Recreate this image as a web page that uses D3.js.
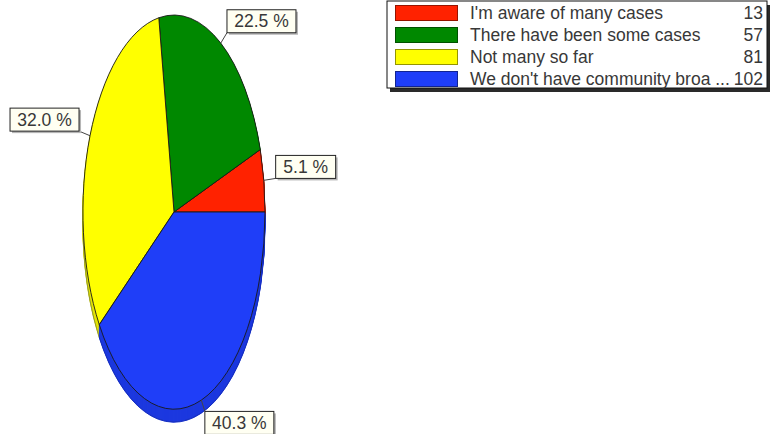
<!DOCTYPE html>
<html>
<head>
<meta charset="utf-8">
<script src="https://cdn.jsdelivr.net/npm/d3@7"></script>
<style>
  html, body { margin: 0; padding: 0; background: #fff; }
  svg { display: block; }
  text { font-family: Arial, "Liberation Sans", sans-serif; }
</style>
</head>
<body>
<svg id="chart" width="771" height="434"></svg>
<script>
// Survey answers and counts
const categories = [
  "I'm aware of many cases",
  "There have been some cases",
  "Not many so far",
  "We don't have community broa ..."
];
const counts = [13, 57, 81, 102];
const colors = ["#ff2200", "#008800", "#ffff00", "#1f3ef8"];

const svg = d3.select("#chart");

// Elliptical 3D pie: top face centre, radii and extrusion depth
const cx = 174, cy = 212, rx = 91, ry = 197, depth = 13;
const fontSize = 17.5;

const total = d3.sum(counts);
const pct = d3.format(".1f");

// Slices run counter-clockwise from 3 o'clock
const pie = d3.pie().sort(null).startAngle(Math.PI / 2).endAngle(Math.PI / 2 - 2 * Math.PI);
const arcs = pie(counts);
const arcGen = d3.arc().innerRadius(0).outerRadius(1);

const pieG = svg.append("g");

// Side of the pie: stacked layers of the slices, darker colour
for (let d = depth; d >= 1; d--) {
  const layer = pieG.append("g")
    .attr("transform", `translate(${cx},${cy + d}) scale(${rx},${ry})`);
  layer.selectAll("path")
    .data(arcs)
    .join("path")
    .attr("d", arcGen)
    .attr("fill", (a, i) => d3.color(colors[i]).darker(0.3))
    .attr("stroke", (a, i) => d3.color(colors[i]).darker(0.3))
    .attr("stroke-width", 1)
    .attr("vector-effect", "non-scaling-stroke");
}
// Outline of bottom rim
pieG.append("ellipse")
  .attr("cx", cx).attr("cy", cy + depth).attr("rx", rx).attr("ry", ry)
  .attr("fill", "none").attr("stroke", "#10208a").attr("stroke-width", 0.8).attr("opacity", 0.5);

// Top face
const faceG = pieG.append("g")
  .attr("transform", `translate(${cx},${cy}) scale(${rx},${ry})`);
faceG.selectAll("path")
  .data(arcs)
  .join("path")
  .attr("d", arcGen)
  .attr("fill", (a, i) => colors[i])
  .attr("stroke", "#1a1a1a")
  .attr("stroke-width", 0.9)
  .attr("vector-effect", "non-scaling-stroke");

// Percentage labels with leader lines
const leader = 12;
const labelG = svg.append("g");
arcs.forEach((a, i) => {
  const mid = (a.startAngle + a.endAngle) / 2;
  const ux = Math.sin(mid), uy = -Math.cos(mid);
  const ax = cx + rx * ux, ay = cy + ry * uy;
  const ex = ax + ux * leader, ey = ay + uy * leader;
  const txt = pct(counts[i] / total * 100) + " %";

  const g = labelG.append("g");
  const t = g.append("text")
    .attr("font-size", fontSize)
    .attr("fill", "#383838")
    .attr("text-anchor", "middle")
    .text(txt);
  const tw = t.node().getComputedTextLength();
  const bw = Math.round(tw + 15), bh = 23;
  const bx = ux >= 0 ? ex : ex - bw;
  const by = uy <= 0 ? ey - bh : ey;

  g.insert("rect", "text")
    .attr("x", bx + 2).attr("y", by + 2).attr("width", bw).attr("height", bh)
    .attr("fill", "#b5b5b5");
  g.insert("rect", "text")
    .attr("x", bx).attr("y", by).attr("width", bw).attr("height", bh)
    .attr("fill", "#fffff2").attr("stroke", "#222").attr("stroke-width", 1);
  t.attr("x", bx + bw / 2).attr("y", by + bh / 2 + 6);

  g.insert("line", "rect")
    .attr("x1", ax).attr("y1", ay).attr("x2", ex).attr("y2", ey)
    .attr("stroke", "#444").attr("stroke-width", 1);
});

// Legend
const lx = 387, ly = 1, lw = 380, lh = 87, rowH = 22;
const leg = svg.append("g");
leg.append("rect")
  .attr("x", lx + 3).attr("y", ly + 4).attr("width", lw).attr("height", lh)
  .attr("fill", "#2a2a2a");
leg.append("rect")
  .attr("x", lx).attr("y", ly).attr("width", lw).attr("height", lh)
  .attr("fill", "#fff").attr("stroke", "#111").attr("stroke-width", 1);

const rows = leg.selectAll("g.row")
  .data(categories)
  .join("g")
  .attr("class", "row")
  .attr("transform", (d, i) => `translate(0,${ly + 4 + i * rowH})`);
rows.append("rect")
  .attr("x", 395.5).attr("y", 0.5).attr("width", 62).attr("height", 15)
  .attr("fill", (d, i) => colors[i])
  .attr("stroke", (d, i) => d3.color(colors[i]).darker(1.5))
  .attr("stroke-width", 1);
rows.append("text")
  .attr("x", 470).attr("y", 14)
  .attr("font-size", fontSize)
  .attr("fill", "#383838")
  .text(d => d);
rows.append("text")
  .attr("x", 763).attr("y", 14)
  .attr("font-size", fontSize)
  .attr("fill", "#383838")
  .attr("text-anchor", "end")
  .text((d, i) => counts[i]);
</script>
</body>
</html>
